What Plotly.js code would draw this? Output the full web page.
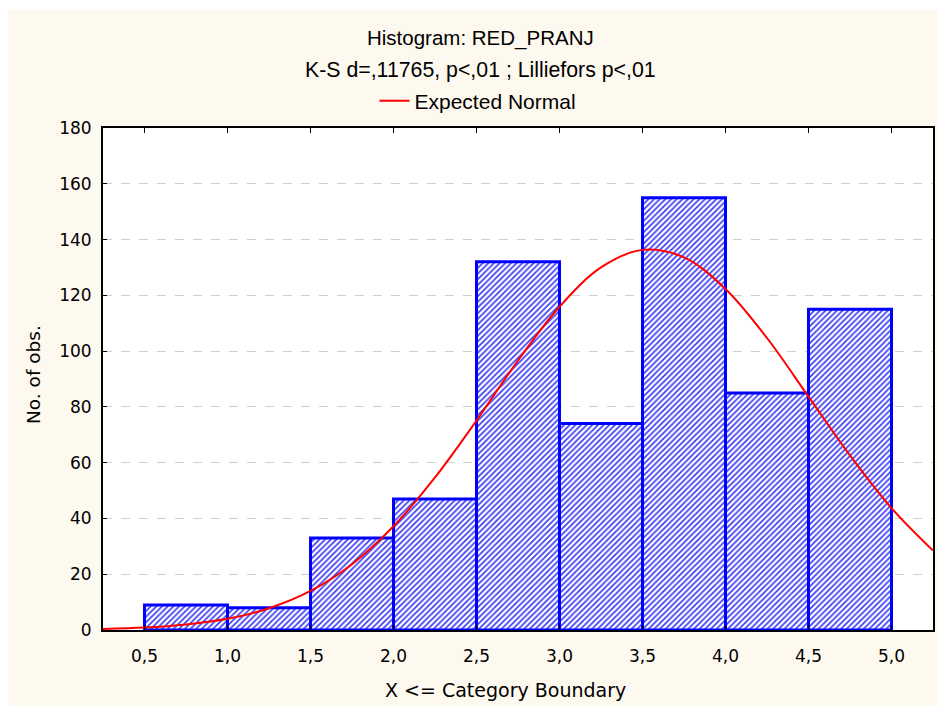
<!DOCTYPE html>
<html>
<head>
<meta charset="utf-8">
<script src="https://cdn.plot.ly/plotly-3.0.1.min.js"></script>
<style>html,body{margin:0;padding:0;background:#fff;}#chart{width:938px;height:706px;}</style>
</head>
<body>
<div id="chart"></div>
<script>
// Histogram bins (upper category boundaries) and counts
const binCenters = [0.75, 1.25, 1.75, 2.25, 2.75, 3.25, 3.75, 4.25, 4.75];
const counts = [9, 8, 33, 47, 132, 74, 155, 85, 115];
// Expected normal curve
const curveX = [0.25, 0.5, 0.75, 1.0, 1.25, 1.5, 1.75, 2.0, 2.25, 2.5, 2.75, 3.0, 3.25, 3.5, 3.75, 4.0, 4.25, 4.5, 4.75, 5.0, 5.25];
const curveY = [0.4, 0.9, 2.0, 4.0, 7.8, 14.0, 23.6, 37.2, 54.7, 75.1, 96.6, 115.9, 130.0, 136.3, 133.6, 122.3, 104.7, 83.7, 62.6, 43.7, 28.5];
const xTicks = [0.5, 1.0, 1.5, 2.0, 2.5, 3.0, 3.5, 4.0, 4.5, 5.0];
const yTicks = [0, 20, 40, 60, 80, 100, 120, 140, 160, 180];

const L = 103, R = 5, T = 128, B = 76, W = 938, H = 706;
const pw = W - L - R, ph = H - T - B;
const px = v => (v - L) / pw;
const py = v => (H - B - v) / ph;

const bars = {
  type: 'bar', x: binCenters, y: counts, width: 0.5, showlegend: false,
  marker: {
    color: '#ffffff',
    line: {color: '#0000ff', width: 3},
    pattern: {shape: '/', fgcolor: '#3b3bf5', bgcolor: '#ffffff', size: 4, solidity: 0.42}
  },
  hoverinfo: 'x+y'
};
const curve = {
  type: 'scatter', mode: 'lines', x: curveX, y: curveY, name: 'Expected Normal',
  line: {color: '#ff0000', width: 2, shape: 'spline'}
};

const fam = 'DejaVu Sans, Verdana, sans-serif';
const tfam = 'Liberation Sans, Arial, sans-serif';

const layout = {
  width: W, height: H,
  margin: {l: L, r: R, t: T, b: B},
  paper_bgcolor: '#fef9ef', plot_bgcolor: '#ffffff',
  separators: ',.',
  font: {family: fam, size: 16, color: '#000'},
  bargap: 0,
  xaxis: {
    range: [0.25, 5.25], tickvals: xTicks, tickformat: '.1f',
    showline: true, linecolor: '#000', linewidth: 2, mirror: 'ticks',
    ticks: 'inside', ticklen: 5, tickcolor: '#000', tickwidth: 1,
    showgrid: false, zeroline: false, ticklabelstandoff: 10,
    tickfont: {family: fam, size: 17, color: '#000'}
  },
  yaxis: {
    range: [0, 180], tickvals: yTicks,
    showline: true, linecolor: '#000', linewidth: 2, mirror: true,
    ticks: 'inside', ticklen: 4, tickcolor: '#000', tickwidth: 1,
    showgrid: true, gridcolor: '#cfcfcf', griddash: 'dash', gridwidth: 1,
    zeroline: false, ticklabelstandoff: 6,
    tickfont: {family: fam, size: 17, color: '#000'}
  },
  showlegend: true,
  legend: {
    orientation: 'h', x: px(478), xanchor: 'center', y: py(101), yanchor: 'middle',
    bgcolor: 'rgba(0,0,0,0)', font: {family: tfam, size: 21, color: '#000'}
  },
  shapes: [
    {type: 'rect', xref: 'paper', yref: 'paper', x0: px(0), x1: px(W), y0: py(0), y1: py(10),
     fillcolor: '#ffffff', line: {width: 0}, layer: 'below'},
    {type: 'rect', xref: 'paper', yref: 'paper', x0: px(0), x1: px(8), y0: py(0), y1: py(H),
     fillcolor: '#ffffff', line: {width: 0}, layer: 'below'}
  ],
  annotations: [
    {text: 'Histogram: RED_PRANJ', xref: 'paper', yref: 'paper', x: px(480), y: py(38),
     xanchor: 'center', yanchor: 'middle', showarrow: false, font: {family: tfam, size: 20.5, color: '#000'}},
    {text: 'K-S d=,11765, p<,01 ; Lilliefors p<,01', xref: 'paper', yref: 'paper', x: px(480), y: py(70),
     xanchor: 'center', yanchor: 'middle', showarrow: false, font: {family: tfam, size: 21.3, color: '#000'}},
    {text: 'X <= Category Boundary', xref: 'paper', yref: 'paper', x: px(505), y: py(690),
     xanchor: 'center', yanchor: 'middle', showarrow: false, font: {family: fam, size: 19, color: '#000'}},
    {text: 'No. of obs.', xref: 'paper', yref: 'paper', x: px(33), y: py(375), textangle: -90,
     xanchor: 'center', yanchor: 'middle', showarrow: false, font: {family: fam, size: 18.5, color: '#000'}}
  ]
};

Plotly.newPlot('chart', [bars, curve], layout, {displayModeBar: false, staticPlot: true});
</script>
</body>
</html>
